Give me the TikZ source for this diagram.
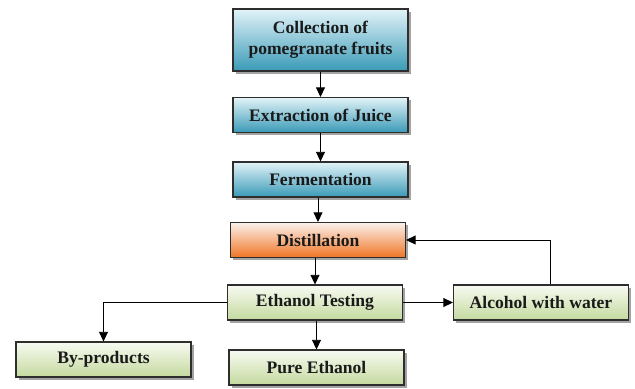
\documentclass[tikz,border=0pt]{standalone}
\usepackage{fontspec}
\setmainfont{Liberation Serif}
\usetikzlibrary{arrows.meta,positioning,calc,shadows}
\definecolor{Ink}{HTML}{1A1A1A}
\definecolor{Edge}{HTML}{2E2E2E}
\definecolor{BlueTop}{HTML}{E2F3F8}
\definecolor{BlueBot}{HTML}{3A9AB7}
\definecolor{OrangeTop}{HTML}{FBF1EC}
\definecolor{OrangeBot}{HTML}{F07524}
\definecolor{GreenTop}{HTML}{F8FAF2}
\definecolor{GreenBot}{HTML}{C4DA9E}
\tikzset{
  basebox/.style={draw=Edge,line width=0.9pt,minimum width=5.25cm,minimum height=1.05cm,align=center,font=\fontsize{15}{18}\selectfont\bfseries,text=Ink,
    drop shadow={shadow xshift=2.2pt,shadow yshift=-2.2pt,fill=black!45,opacity=0.8}},
  bluebox/.style={basebox,top color=BlueTop,bottom color=BlueBot},
  orangebox/.style={basebox,top color=OrangeTop,bottom color=OrangeBot},
  greenbox/.style={basebox,top color=GreenTop,bottom color=GreenBot},
  line/.style={-{Triangle[length=2.9mm,width=2.7mm]},draw=black,line width=0.8pt}
}
\begin{document}
\begin{tikzpicture}[x=0.03cm,y=-0.03cm]
  \useasboundingbox (0,0) rectangle (635,389);
  \node[bluebox,minimum height=1.86cm] (collect) at (320.5,40) {Collection of\\pomegranate fruits};
  \node[bluebox] (juice) at (320.5,115) {Extraction of Juice};
  \node[bluebox] (ferment) at (320.5,179.5) {Fermentation};
  \node[orangebox] (distil) at (318,240) {Distillation};
  \node[greenbox] (testing) at (315,302.5) {Ethanol Testing};
  \node[greenbox] (water) at (541,302.5) {Alcohol with water};
  \node[greenbox] (byprod) at (103.5,359.5) {By-products};
  \node[greenbox] (pure) at (316.5,367.5) {Pure Ethanol};
  \draw[line] (collect) -- (juice);
  \draw[line] (juice) -- (ferment);
  \draw[line] (ferment.south -| distil.north) -- (distil.north);
  \draw[line] (distil.south -| testing.north) -- (testing.north);
  \draw[line] (testing) -- (water);
  \draw[line] ([xshift=0.27cm]water.north) |- (distil.east);
  \draw[line] (testing.west) -| (byprod.north);
  \draw[line] (testing.south -| pure.north) -- (pure.north);
\end{tikzpicture}
\end{document}
